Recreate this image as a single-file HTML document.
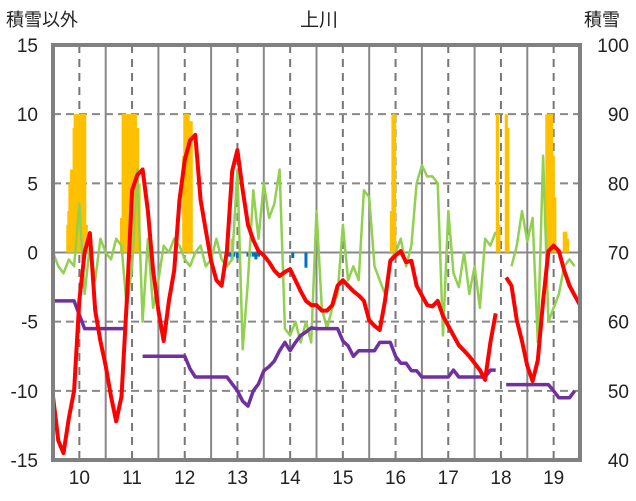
<!DOCTYPE html>
<html><head><meta charset="utf-8">
<style>
html,body{margin:0;padding:0;background:#fff;}
svg{display:block;font-family:"Liberation Sans","Noto Sans CJK JP",sans-serif;}
</style></head>
<body>
<svg id="chart" width="636" height="501" viewBox="0 0 636 501" xmlns="http://www.w3.org/2000/svg">
<text x="319" y="26" font-size="19" text-anchor="middle" fill="#222">上川</text>
<text x="6" y="26" font-size="18" fill="#222">積雪以外</text>
<text x="584" y="26" font-size="18" fill="#222">積雪</text>
<g id="grid"></g><g id="bars"></g><g id="lines"></g><g id="frame"></g><g id="labels"></g>
</svg>
<script>
const leftTicks=[15,10,5,0,-5,-10,-15];
const rightTicks=[100,90,80,70,60,50,40];
const months=[10,11,12,13,14,15,16,17,18,19];
const t0=9.5;
const redVals=[-10.4,-13.6,-14.5,-12,-10,-3.5,0,1.4,-4.2,-6.4,-8.2,-10.4,-12.2,-10.4,-3.5,4.5,5.6,6,3,-1.3,-4.2,-6.4,-3.5,-1.3,3.8,6.7,8.1,8.5,3.8,1.6,-0.6,-2,-2.4,0.1,5.9,7.4,4.5,2,0.9,0.1,-0.2,-0.7,-1.3,-1.7,-1.4,-1.2,-2,-2.8,-3.5,-3.8,-3.8,-4.2,-4.2,-3.8,-2.4,-2,-2.4,-2.8,-3.1,-3.5,-4.9,-5.3,-5.6,-3.5,-0.6,-0.2,0.1,-0.7,-0.6,-2.4,-3.1,-3.8,-3.9,-3.5,-4.6,-5.3,-6,-6.7,-7.1,-7.5,-8,-8.5,-9.2,-6.5,-4.4,null,-1.8,-2.4,-4.9,-6.4,-8.2,-9.3,-7.8,-3.5,0.1,0.5,0.1,-1.3,-2.4,-3.1,-3.8];
const greenVals=[0,-1,-1.5,-0.5,-1,3.5,-3,0.5,-2,1,0,-0.5,1,0.5,-4,-1,6,-5,1,-4,-2,0.5,0,1,0.5,-0.5,-1,0,0.5,-1,-0.5,1,-0.5,-1,-0.5,6,-7,-2,4.5,1,5,2.5,3.5,6,-5.5,-6,-5,-6.5,-5,-6.5,3,-4,-5.5,-4,-3,2,-2,-1,-2,4.5,4,-1,-2,-3,-0.5,0,1,-1,0.5,5,6.3,5.5,5.5,5,-6,3,-1.5,-2.5,0,-3,-1,-4,1,0.5,1.5,null,null,-1,0.5,3,0.8,2.5,-6.5,7,-5,-4,-3,-1,-0.5,-1];
const purpleVals=[63,63,63,63,63,61,59,59,59,59,59,59,59,59,59,null,null,55,55,55,55,55,55,55,55,55,53.2,52,52,52,52,52,52,52,51,50,48.5,47.8,50,51,52.9,53.5,54.3,55.8,57,55.8,57,58,58.5,59.1,59,59,59,59,59,57.2,56.5,55,55.8,55.8,55.8,55.8,57,57,57,55,54,54,52.9,52.9,52,52,52,52,52,52,53,52,52,52,52,52,52,53,53,null,50.9,50.9,50.9,50.9,50.9,50.9,50.9,50.9,50.9,50,49,49,49,50];
const snowPos=[9.78,9.8,9.82,9.85,9.87,9.9,9.92,9.95,9.97,10,10.03,10.06,10.08,10.1,10.13,10.8,10.83,10.86,10.89,10.92,10.95,10.98,11.0,11.03,11.06,11.1,11.13,11.98,12.0,12.03,12.06,12.09,12.12,12.9,15.92,15.95,15.98,17.93,17.96,18.1,18.13,18.87,18.9,18.93,18.96,18.99,19.02,19.2,19.23,19.26];
const snowVals=[74,76,80,82,79,88,90,86,90,90,90,90,90,90,74,75,90,90,90,90,90,90,90,90,90,88,80,84,90,90,90,88,89,72,76,90,90,90,74,90,88,90,87,90,90,84,78,73,73,72];
const bluePos=[12.85,12.9,12.93,13.0,13.03,13.2,13.23,13.3,13.35,13.4,14.05,14.3];
const blueVals=[-0.3,-0.5,-0.3,-0.4,-0.3,-0.3,-0.3,-0.3,-0.5,-0.3,-0.4,-1.1];

const L=53,R=580,T=45,B=460,NS="http://www.w3.org/2000/svg";
const xs=t=>L+(t-t0)*(R-L)/10;
const yl=v=>T+(15-v)*(B-T)/30;
const yr=v=>T+(100-v)*(B-T)/60;
function mk(tag,attrs,parent){const e=document.createElementNS(NS,tag);for(const k in attrs)e.setAttribute(k,attrs[k]);document.getElementById(parent).appendChild(e);return e;}
leftTicks.forEach((v,i)=>{
  const g=mk('line',{x1:L,x2:R,y1:yl(v),y2:yl(v),stroke:'#888','stroke-width':2,'stroke-dasharray':v===0?'none':'8,5'},'grid');
  
  
  const t=mk('text',{x:38,y:yl(v)+7,'font-size':19,'text-anchor':'end',fill:'#222'},'labels');t.textContent=v;
  
  
  const r=mk('text',{x:629,y:yr(rightTicks[i])+7,'font-size':19,'text-anchor':'end',fill:'#222'},'labels');r.textContent=rightTicks[i];
  
  
});
months.forEach(m=>{
  const d=mk('line',{x1:xs(m),x2:xs(m),y1:T,y2:B,stroke:'#777','stroke-width':2,'stroke-dasharray':'8,6'},'grid');
  
  
  if(m<19){const s=mk('line',{x1:xs(m+0.5),x2:xs(m+0.5),y1:T,y2:B,stroke:'#888','stroke-width':2},'grid');
  
  }
  const t=mk('text',{x:xs(m),y:484,'font-size':19,'text-anchor':'middle',fill:'#222'},'labels');t.textContent=m;
  
  
});
snowPos.forEach((p,i)=>{
  const b=mk('rect',{x:xs(p)-1.5,y:yr(snowVals[i]),width:3.2,height:yr(70)-yr(snowVals[i]),fill:'#FFC000'},'bars');
  
  
});
bluePos.forEach((p,i)=>{
  const b=mk('rect',{x:xs(p)-1.5,y:yl(0),width:3,height:yl(blueVals[i])-yl(0),fill:'#0070C0'},'bars');
  
  
});
function path(vals,yf){let d='',pen=false;vals.forEach((v,i)=>{if(v===null){pen=false;return;}const x=xs(t0+i*0.1),y=yf(v);d+=(pen?'L':'M')+x.toFixed(1)+','+y.toFixed(1);pen=true;});return d;}
const g1=mk('path',{d:path(greenVals,yl),fill:'none',stroke:'#92D050','stroke-width':2.5,'stroke-linejoin':'round'},'lines');


const p1=mk('path',{d:path(purpleVals,yr),fill:'none',stroke:'#7030A0','stroke-width':3.5,'stroke-linejoin':'round'},'lines');


const r1=mk('path',{d:path(redVals,yl),fill:'none',stroke:'#FF0000','stroke-width':4,'stroke-linejoin':'round'},'lines');


const f=mk('rect',{x:L,y:T,width:R-L,height:B-T,fill:'none',stroke:'#808080','stroke-width':4},'frame');


</script>
</body></html>
